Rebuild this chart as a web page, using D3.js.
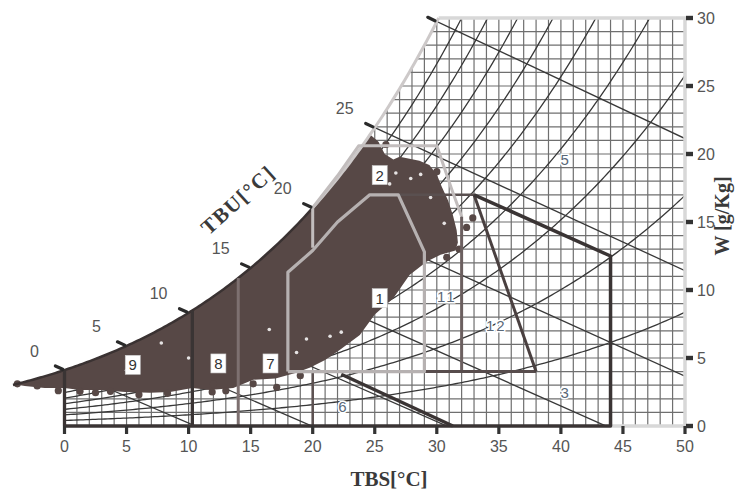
<!DOCTYPE html>
<html><head><meta charset="utf-8">
<script src="https://cdn.jsdelivr.net/npm/d3@7"></script>
<style>body{margin:0;background:#fff} svg{display:block}</style>
</head><body>
<svg id="c" width="755" height="490"></svg>
<script>
// ---------------- data ----------------
const tbsTicks = [0,5,10,15,20,25,30,35,40,45,50];
const wTicks = [0,5,10,15,20,25,30];
const tbuTicks = [0,5,10,15,20,25,30];
const tbuLabels = [0,5,10,15,20,25];
const rhLevels = [10,20,30,40,50,60,70,80,90];
const wetBulbLines = [0,5,10,15,20,25,30];
const sitePressure = 93; // kPa (fits the drawn saturation curve)

// zone boundaries, [TBS °C, W g/kg]
const zone1 = [[18,4],[18,11.3],[20,12.9],[22,15.0],[24.6,17],[26.9,17],[29,12.8],[29,4],[18,4]];
const zone2 = [[20,13.1],[20,16.05],[22,18.4],[23.7,20.6],[30,20.6],[31.2,17.4],[32,15.4]];
const zone11 = [[32,15.4],[32,4]];
const zoneBase4 = [[29,4],[38,4]];
const zone12Top = [[26.9,17],[33,17]];
const zone12Diag = [[33,17],[38,4]];
const zone3 = [[33,17],[44,12.5],[44,0],[0,0]];
const zone6 = [[22.3,3.8],[31.3,0]];
const zone7Split = [[20,0],[20,4]];
const heatVerticals = [0, 10.3]; // dark, up to saturation
const solarVertical = 14;          // medium, up to saturation

// climate data cloud: lower/right envelope (upper edge = saturation curve)
const cloudEdge = [[24.6,21.45],[25.3,20.9],[25.8,20.0],[26.5,19.6],[27.0,19.8],[28.6,19.5],[29.4,19.2],[30.0,18.5],[30.4,17.6],[30.9,16.6],[31.3,15.5],[31.6,14.4],[31.7,13.5],[31.5,12.9],[30.3,12.6],[29.2,12.1],[27.8,11.1],[26.5,9.4],[25.0,8.2],[23.8,6.7],[22.2,5.6],[21.0,4.85],[19.8,4.3],[18.6,3.9],[17.0,3.5],[15.2,3.4],[13.6,2.8],[11.7,2.65],[10.3,2.8],[8.5,2.5],[6.9,2.45],[4.9,2.5],[2.9,2.65],[1.25,2.65],[0,2.8],[-1.6,2.8],[-3.2,2.95],[-4.15,3.09]];
const cloudStartT = -4.15;
const cloudDots = [[-3.8,3.1],[-2.2,2.95],[-0.5,2.6],[1.25,2.55],[2.5,2.45],[3.7,2.55],[8.3,2.4],[12.0,3.1],[15.2,3.1],[17.1,2.85],[11.9,2.5],[30.0,18.7],[32.9,15.3],[32.4,14.6],[31.8,13.0],[30.8,12.4],[25.9,20.7],[6.0,2.3],[19.0,3.7],[13.0,2.6]];
const cloudGaps = [[26.7,18.6],[27.9,18.2],[28.7,18.5],[26.2,17.8],[16.5,7.1],[19.5,6.4],[21.4,6.6],[22.3,6.9],[18.7,5.4],[7.8,6.1],[10.0,5.0],[29.5,16.8],[30.6,14.9],[23.6,5.7],[5.0,4.1]];

const zoneLabels = [
  {t:"1",T:25.4,W:9.4,box:true},{t:"2",T:25.4,W:18.45,box:true},
  {t:"3",T:40.3,W:2.5,box:false},{t:"5",T:40.3,W:19.6,box:false},
  {t:"6",T:22.4,W:1.4,box:false},{t:"7",T:16.6,W:4.6,box:true},
  {t:"8",T:12.4,W:4.6,box:true},{t:"9",T:5.5,W:4.5,box:true},
  {t:"11",T:30.8,W:9.5,box:false},{t:"12",T:34.8,W:7.4,box:false}
];

// ---------------- psychrometric construction ----------------
function pws(T){ return 0.6108*Math.exp(17.27*T/(T+237.3)); }
function wsat(T){ const p=pws(T); return 622*p/(sitePressure-p); }
function wrh(T,phi){ const p=phi*pws(T); return 622*p/(sitePressure-p); }
function wwb(T,Tw){ const ws=wsat(Tw)/1000; return 1000*((2501-2.326*Tw)*ws-1.006*(T-Tw))/(2501+1.86*T-4.186*Tw); }
function tAtSat(w){ let a=-10,b=60; for(let i=0;i<60;i++){const m=(a+b)/2; if(wsat(m)<w)a=m; else b=m;} return (a+b)/2; }
const tTop = tAtSat(30);

// ---------------- drawing ----------------
const svg = d3.select("#c");
const X = d3.scaleLinear().domain([0,50]).range([64.5,685]);
const Y = d3.scaleLinear().domain([0,30]).range([426,18]);
const line = d3.line().x(d=>X(d[0])).y(d=>Y(d[1]));
const satPts = (a,b,s=0.2)=>{const r=d3.range(a,b,s).map(t=>[t,wsat(t)]); r.push([b,wsat(b)]); return r;};

// clip region: under saturation curve, inside frame
const clipPts = [[0,0],[50,0],[50,30],[tTop,30]].concat(satPts(0,tTop).reverse());
svg.append("defs").append("clipPath").attr("id","chart").append("path").attr("d",line(clipPts)+"Z");

const g = svg.append("g").attr("clip-path","url(#chart)");
// grid
g.selectAll("line.v").data(d3.range(0,51)).join("line")
  .attr("x1",d=>X(d)).attr("x2",d=>X(d)).attr("y1",Y(0)).attr("y2",Y(30))
  .attr("stroke","#6f6f6f").attr("stroke-width",1.2);
g.selectAll("line.h").data(d3.range(0,31)).join("line")
  .attr("x1",X(0)).attr("x2",X(50)).attr("y1",d=>Y(d)).attr("y2",d=>Y(d))
  .attr("stroke","#6f6f6f").attr("stroke-width",1.2);
// RH curves
g.selectAll("path.rh").data(rhLevels).join("path")
  .attr("d",p=>line(d3.range(0,50.01,0.25).map(t=>[t,wrh(t,p/100)])))
  .attr("fill","none").attr("stroke","#383838").attr("stroke-width",1.3);
// wet-bulb lines
g.selectAll("path.wb").data(wetBulbLines).join("path")
  .attr("d",tw=>line([[tw-1,wwb(tw-1,tw)],[50,wwb(50,tw)]]))
  .attr("fill","none").attr("stroke","#383838").attr("stroke-width",1.3);

// climate data cloud
const cloudPath = satPts(cloudStartT,cloudEdge[0][0]).concat(cloudEdge);
svg.append("path").attr("d",line(cloudPath)+"Z").attr("fill","#574846");
svg.selectAll("circle.dot").data(cloudDots).join("circle")
  .attr("cx",d=>X(d[0])).attr("cy",d=>Y(d[1])).attr("r",3.6).attr("fill","#574846");
svg.selectAll("circle.gap").data(cloudGaps).join("circle")
  .attr("cx",d=>X(d[0])).attr("cy",d=>Y(d[1])).attr("r",1.8).attr("fill","#ffffff").attr("opacity",0.85);

// frame (light)
svg.append("path").attr("d",line([[tTop,30],[50,30],[50,0],[44,0]])).attr("fill","none").attr("stroke","#d8d8d8").attr("stroke-width",3.5);

// saturation curve
svg.append("path").attr("d",line(satPts(cloudStartT,20))).attr("fill","none").attr("stroke","#3a3232").attr("stroke-width",2.5);
svg.append("path").attr("d",line(satPts(20,tTop))).attr("fill","none").attr("stroke","#cdc9c9").attr("stroke-width",3);

// zone lines
function zl(pts,color,w){ svg.append("path").attr("d",line(pts)).attr("fill","none").attr("stroke",color).attr("stroke-width",w).attr("stroke-linejoin","round"); }
zl([[solarVertical,0],[solarVertical,wsat(solarVertical)]],"#7d7070",3);
zl(zone7Split,"#5d5252",2.6);
zl(zone12Top,"#5a5050",2.6);
zl(zone11,"#6b5f5f",3);
zl(zoneBase4,"#574c4c",3);
zl(zone12Diag,"#4a4040",3);
zl(zone6,"#3a3434",3.4);
zl(zone3,"#3a3434",3.5);
heatVerticals.forEach(t=>zl([[t,0],[t,wsat(t)]],"#3a3434",3.3));
zl(zone2,"#c2bdbd",3);
zl(zone1,"#b6b1b1",3.2);

// TBU ticks & labels on saturation curve
tbuTicks.forEach(tw=>{
  const x0=X(tw), y0=Y(wsat(tw));
  const x1=X(tw+3), y1=Y(wwb(tw+3,tw));
  let dx=x0-x1, dy=y0-y1; const L=Math.hypot(dx,dy); dx/=L; dy/=L;
  svg.append("line").attr("x1",x0+dx*2).attr("y1",y0+dy*2).attr("x2",x0+dx*10).attr("y2",y0+dy*10)
    .attr("stroke","#2a2a2a").attr("stroke-width",3.2).attr("stroke-linecap","round");
});
svg.selectAll("text.tbu").data(tbuLabels).join("text")
  .attr("x",d=>X(d)-30).attr("y",d=>Y(wsat(d))-19)
  .attr("text-anchor","middle").attr("dominant-baseline","central")
  .attr("font-family","Liberation Sans, Arial, sans-serif").attr("font-size",16).attr("fill","#555")
  .text(d=>d);

// bottom axis ticks & labels
svg.selectAll("rect.xt").data(tbsTicks).join("rect")
  .attr("x",d=>X(d)-1.6).attr("y",426).attr("width",3.2).attr("height",8).attr("fill","#333");
svg.selectAll("text.xl").data(tbsTicks).join("text")
  .attr("x",d=>X(d)).attr("y",452).attr("text-anchor","middle")
  .attr("font-family","Liberation Sans, Arial, sans-serif").attr("font-size",16).attr("fill","#555")
  .text(d=>d);
// right axis ticks & labels
svg.selectAll("rect.yt").data(wTicks).join("rect")
  .attr("x",686).attr("y",d=>Y(d)-2.2).attr("width",7).attr("height",4.4).attr("fill","#333");
svg.selectAll("text.yl").data(wTicks).join("text")
  .attr("x",697).attr("y",d=>Y(d)).attr("dominant-baseline","central")
  .attr("font-family","Liberation Sans, Arial, sans-serif").attr("font-size",16).attr("fill","#555")
  .text(d=>d);

// axis titles
svg.append("text").attr("x",389).attr("y",486).attr("text-anchor","middle")
  .attr("font-family","Liberation Serif, Times New Roman, serif").attr("font-weight","bold").attr("font-size",21).attr("fill","#3a3a3a")
  .text("TBS[°C]");
svg.append("text").attr("transform","translate(722,216) rotate(-90)").attr("text-anchor","middle").attr("dominant-baseline","central")
  .attr("font-family","Liberation Serif, Times New Roman, serif").attr("font-weight","bold").attr("font-size",20).attr("fill","#3a3a3a")
  .text("W [g/Kg]");
svg.append("text").attr("transform","translate(238,200) rotate(-42)").attr("text-anchor","middle").attr("dominant-baseline","central")
  .attr("font-family","Liberation Serif, Times New Roman, serif").attr("font-weight","bold").attr("font-size",21).attr("letter-spacing",1.5).attr("fill","#3a3a3a")
  .text("TBU[°C]");

// zone labels
zoneLabels.forEach(z=>{
  const x=X(z.T), y=Y(z.W);
  if(z.box){
    svg.append("rect").attr("x",x-7.5).attr("y",y-9.5).attr("width",15).attr("height",19)
      .attr("fill","#fff").attr("stroke","#ccc").attr("stroke-width",0.6);
  }
  svg.append("text").attr("x",x).attr("y",y).attr("text-anchor","middle").attr("dominant-baseline","central")
    .attr("font-family","Liberation Sans, Arial, sans-serif").attr("font-size",15)
    .attr("letter-spacing",z.t.length>1?2:0)
    .attr("fill",z.box?"#333":"#5a6878")
    .attr("stroke",z.box?"none":"#fff").attr("stroke-width",z.box?0:3).attr("paint-order","stroke")
    .text(z.t);
});
</script>
</body></html>
